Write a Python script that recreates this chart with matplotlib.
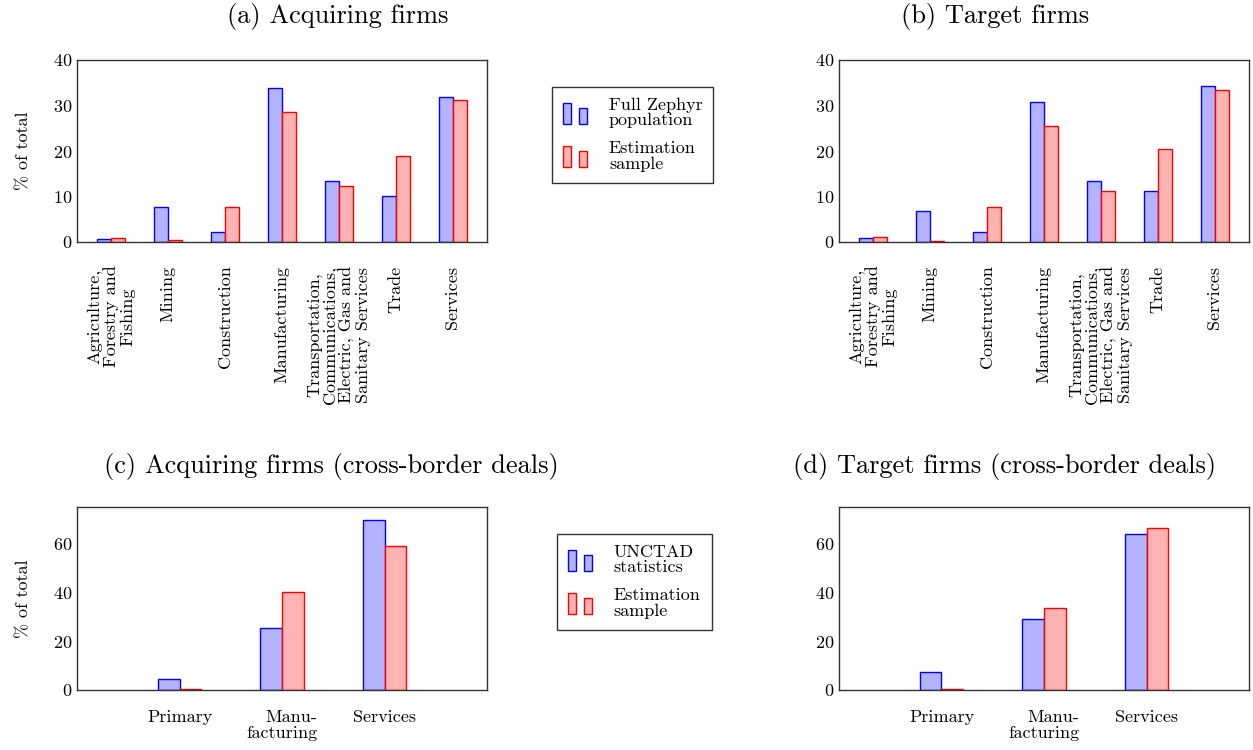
import numpy as np
import matplotlib
matplotlib.use('Agg')
import matplotlib.pyplot as plt
from matplotlib.patches import Rectangle
from matplotlib.legend_handler import HandlerBase

plt.rcParams['font.family'] = ['cmr10', 'DejaVu Serif']
plt.rcParams['axes.formatter.use_mathtext'] = True

# Datos
sectores = ['Agriculture,\nForestry and\nFishing', 'Mining', 'Construction',
            'Manufacturing',
            'Transportation,\nCommunications,\nElectric, Gas and\nSanitary Services',
            'Trade', 'Services']
acq_zephyr = [0.7, 7.6, 2.1, 33.9, 13.3, 10.2, 31.8]
acq_sample = [0.9, 0.4, 7.6, 28.5, 12.4, 18.9, 31.2]
tgt_zephyr = [0.9, 6.9, 2.1, 30.7, 13.5, 11.3, 34.2]
tgt_sample = [1.2, 0.2, 7.7, 25.6, 11.2, 20.4, 33.3]

sectores_cb = ['Primary', 'Manu-\nfacturing', 'Services']
acq_unctad = [4.4, 25.4, 69.8]
acq_sample_cb = [0.3, 40.3, 59.0]
tgt_unctad = [7.3, 29.0, 64.1]
tgt_sample_cb = [0.4, 33.6, 66.4]

titulos = ['(a) Acquiring firms', '(b) Target firms',
           '(c) Acquiring firms (cross-border deals)',
           '(d) Target firms (cross-border deals)']

azul_fc, azul_ec = '#b3b3ff', '#0000ff'
rojo_fc, rojo_ec = '#ffb3b3', '#ff0000'
eje_color = '#333333'
tick_fs = 13
W, H = 1253, 750


class DosBarras(HandlerBase):
    def create_artists(self, legend, orig_handle, xdescent, ydescent,
                       width, height, fontsize, trans):
        fc = orig_handle.get_facecolor()
        ec = orig_handle.get_edgecolor()
        w = width * 0.34
        r1 = Rectangle((-xdescent, -ydescent), w, height, fc=fc, ec=ec,
                       lw=1.0, transform=trans)
        r2 = Rectangle((-xdescent + width - w, -ydescent), w, height * 0.76,
                       fc=fc, ec=ec, lw=1.0, transform=trans)
        return [r1, r2]


def caja(px):
    l, t, r, b = px
    return [l / W, 1 - b / H, (r - l) / W, (b - t) / H]


def panel(ax, etiquetas, s1, s2, ancho, xlim, ylim, yticks, rot, ml, pad):
    x = np.arange(len(etiquetas)) + (0 if xlim[0] < 0 else 1)
    ax.bar(x - ancho / 2, s1, ancho, color=azul_fc, edgecolor=azul_ec, lw=1.0)
    ax.bar(x + ancho / 2, s2, ancho, color=rojo_fc, edgecolor=rojo_ec, lw=1.0)
    ax.set_xlim(*xlim)
    ax.set_ylim(*ylim)
    ax.set_yticks(yticks)
    ax.set_xticks(x)
    ax.set_xticklabels(etiquetas, rotation=rot, ha='center', va='top',
                       multialignment=ml, linespacing=1.05)
    ax.tick_params(axis='both', length=0, labelsize=tick_fs)
    ax.tick_params(axis='x', pad=pad)
    ax.tick_params(axis='y', pad=3)
    for s in ax.spines.values():
        s.set_color(eje_color)
        s.set_linewidth(1.0)


fig = plt.figure(figsize=(W / 100, H / 100), dpi=100)

ax1 = fig.add_axes(caja((77, 60, 487, 242)))
ax2 = fig.add_axes(caja((839, 60, 1249, 242)))
ax3 = fig.add_axes(caja((77, 507, 487, 690)))
ax4 = fig.add_axes(caja((839, 507, 1249, 690)))

panel(ax1, sectores, acq_zephyr, acq_sample, 0.24, (-0.6, 6.6), (0, 40),
      [0, 10, 20, 30, 40], 90, 'center', 17)
panel(ax2, sectores, tgt_zephyr, tgt_sample, 0.24, (-0.6, 6.6), (0, 40),
      [0, 10, 20, 30, 40], 90, 'center', 17)
panel(ax3, sectores_cb, acq_unctad, acq_sample_cb, 0.21, (0, 4), (0, 75),
      [0, 20, 40, 60], 0, 'right', 14)
panel(ax4, sectores_cb, tgt_unctad, tgt_sample_cb, 0.21, (0, 4), (0, 75),
      [0, 20, 40, 60], 0, 'right', 14)

ax1.set_ylabel('% of total', fontsize=tick_fs, labelpad=16)
ax3.set_ylabel('% of total', fontsize=tick_fs, labelpad=16)

# Titulos
for t, (xc, yc) in zip(titulos, [(338, 17), (995, 17), (331, 467), (1005, 467)]):
    fig.text(xc / W, 1 - yc / H, t, ha='center', va='center', fontsize=19)

# Leyendas
h_azul = Rectangle((0, 0), 1, 1, fc=azul_fc, ec=azul_ec)
h_rojo = Rectangle((0, 0), 1, 1, fc=rojo_fc, ec=rojo_ec)
for nombres, (lx, ly) in [(['Full Zephyr\npopulation', 'Estimation\nsample'], (552, 87)),
                          (['UNCTAD\nstatistics', 'Estimation\nsample'], (557, 534))]:
    leg = fig.legend([h_azul, h_rojo], nombres, loc='upper left',
                     bbox_to_anchor=(lx / W, 1 - ly / H),
                     handler_map={Rectangle: DosBarras()},
                     fontsize=tick_fs, handlelength=1.35, handleheight=1.4,
                     handletextpad=1.2, borderpad=0.6, labelspacing=0.7,
                     borderaxespad=0, fancybox=False, framealpha=1)
    leg.get_frame().set_edgecolor(eje_color)
    leg.get_frame().set_linewidth(1.0)
    for txt in leg.get_texts():
        txt.set_linespacing(1.0)

fig.savefig('out.png', dpi=100)
